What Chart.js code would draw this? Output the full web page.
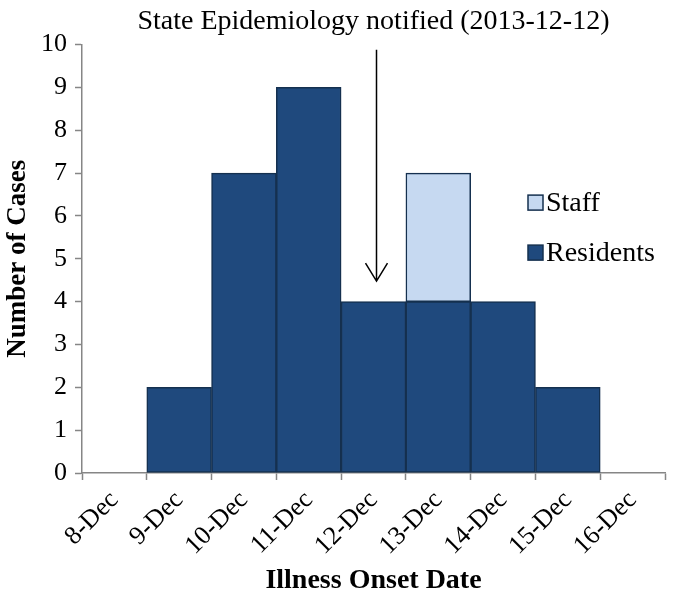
<!DOCTYPE html>
<html>
<head>
<meta charset="utf-8">
<script src="https://cdn.jsdelivr.net/npm/chart.js@4/dist/chart.umd.min.js"></script>
<style>
  html, body { margin: 0; padding: 0; background: #fff; }
  #wrap { width: 673px; height: 595px; }
</style>
</head>
<body>
<div id="wrap"><canvas id="canvas" width="673" height="595"></canvas></div>
<script>
const dates = ['8-Dec', '9-Dec', '10-Dec', '11-Dec', '12-Dec', '13-Dec', '14-Dec', '15-Dec', '16-Dec'];
const residents = [0, 2, 7, 9, 4, 4, 4, 2, 0];
const staff = [0, 0, 0, 0, 0, 3, 0, 0, 0];
const yTicks = [0, 1, 2, 3, 4, 5, 6, 7, 8, 9, 10];

// arrow pointing at the notification date
const notifiedIndex = 4;
const arrowTop = 9.88;
const arrowTip = 4.48;

const FONT = "'Liberation Serif', 'Times New Roman', serif";
const AXIS_GREY = '#868686';

const ctx = document.getElementById('canvas');

const arrowPlugin = {
  id: 'arrow',
  afterDatasetsDraw(chart) {
    const c = chart.ctx;
    const x = chart.scales.x.getPixelForValue(notifiedIndex) + 3;
    const y0 = chart.scales.y.getPixelForValue(arrowTop);
    const y1 = chart.scales.y.getPixelForValue(arrowTip);
    c.save();
    c.strokeStyle = '#000';
    c.lineWidth = 1.5;
    c.beginPath();
    c.moveTo(x, y0);
    c.lineTo(x, y1);
    c.moveTo(x - 11, y1 - 18);
    c.lineTo(x, y1);
    c.lineTo(x + 11, y1 - 18);
    c.stroke();
    c.restore();
  }
};

// legend sits inside the plot on the right, Staff above Residents
const legendPlugin = {
  id: 'insideLegend',
  afterDraw(chart) {
    const c = chart.ctx;
    const area = chart.chartArea;
    const items = chart.data.datasets.slice().reverse();
    const x = area.left + 446;
    let y = chart.scales.y.getPixelForValue(6.3);
    c.save();
    c.font = '28px ' + FONT;
    c.textBaseline = 'middle';
    items.forEach(function(ds) {
      c.fillStyle = ds.backgroundColor;
      c.fillRect(x, y - 8, 15, 15);
      c.strokeStyle = ds.borderColor;
      c.lineWidth = 1.5;
      c.strokeRect(x, y - 8, 15, 15);
      c.fillStyle = '#000';
      c.fillText(ds.label, x + 18, y + 1);
      y += 50;
    });
    c.restore();
  }
};

const data = {
  labels: dates,
  datasets: [
    {
      label: 'Residents',
      data: residents.map(v => v || null),
      backgroundColor: '#1f497d',
      borderColor: '#15304f',
      borderWidth: 1.5,
      borderSkipped: false
    },
    {
      label: 'Staff',
      data: staff.map(v => v || null),
      backgroundColor: '#c6d9f1',
      borderColor: '#15304f',
      borderWidth: 1.5,
      borderSkipped: false
    }
  ]
};

const config = {
  type: 'bar',
  data: data,
  options: {
    responsive: false,
    animation: false,
    barPercentage: 1,
    categoryPercentage: 1,
    layout: {
      padding: { left: 0, right: 8, top: 0, bottom: 0 }
    },
    plugins: {
      legend: { display: false },
      tooltip: { enabled: false },
      title: {
        display: true,
        text: 'State Epidemiology notified (2013-12-12)',
        fullSize: false,
        color: '#000',
        font: { family: FONT, size: 28, weight: 'normal' },
        padding: { top: 5, bottom: 6 }
      }
    },
    scales: {
      x: {
        stacked: true,
        offset: true,
        border: { color: AXIS_GREY, width: 1.5 },
        grid: {
          offset: true,
          drawOnChartArea: false,
          drawTicks: true,
          tickLength: 7,
          tickColor: AXIS_GREY,
          tickWidth: 1.5
        },
        ticks: {
          color: '#000',
          minRotation: 45,
          maxRotation: 45,
          autoSkip: false,
          padding: 5,
          font: { family: FONT, size: 26 }
        },
        title: {
          display: true,
          text: 'Illness Onset Date',
          color: '#000',
          font: { family: FONT, size: 28, weight: 'bold', lineHeight: 1 },
          padding: { top: 0, bottom: 0 }
        },
        afterFit: function(scale) {
          scale.height = 122;
        }
      },
      y: {
        stacked: true,
        min: 0,
        max: 10,
        border: { color: AXIS_GREY, width: 1.5 },
        grid: {
          drawOnChartArea: false,
          drawTicks: true,
          tickLength: 7,
          tickColor: AXIS_GREY,
          tickWidth: 1.5
        },
        afterBuildTicks: function(scale) {
          scale.ticks = yTicks.map(v => ({ value: v }));
        },
        ticks: {
          color: '#000',
          padding: 8,
          font: { family: FONT, size: 26 }
        },
        title: {
          display: true,
          text: 'Number of Cases',
          color: '#000',
          font: { family: FONT, size: 27, weight: 'bold' },
          padding: { top: 2, bottom: 0 }
        },
        afterFit: function(scale) {
          scale.width = 82;
        }
      }
    }
  },
  plugins: [arrowPlugin, legendPlugin]
};

new Chart(ctx, config);
</script>
</body>
</html>
